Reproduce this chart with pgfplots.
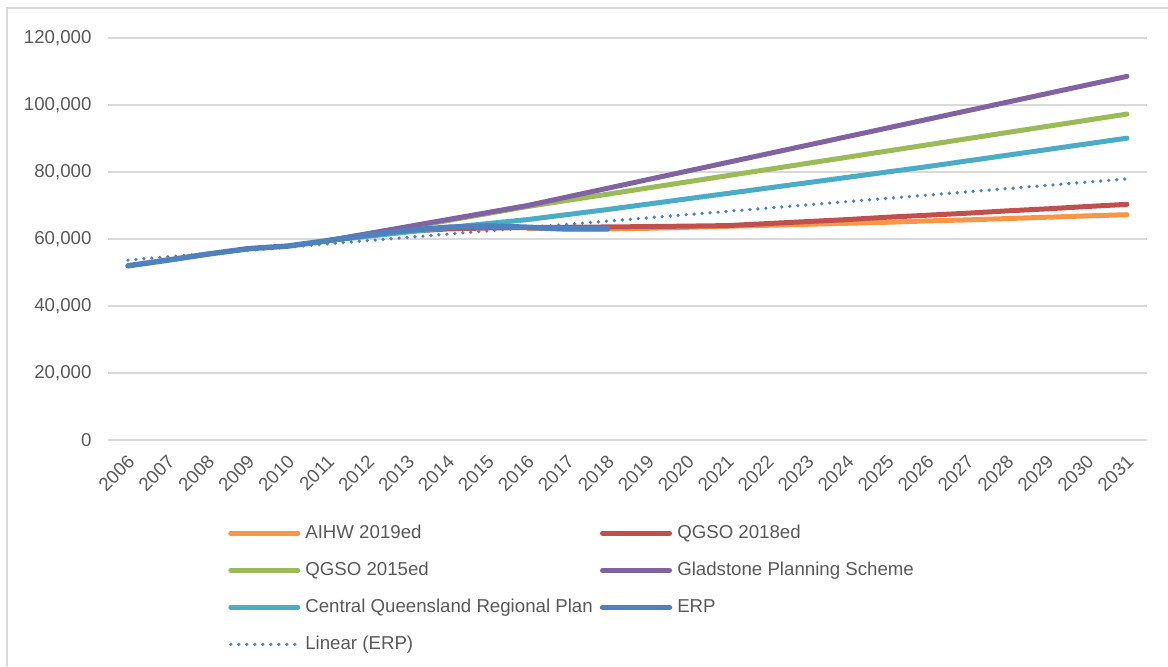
\documentclass[border=0pt]{standalone}
\usepackage{pgfplots}
\pgfplotsset{compat=1.18}
\usepackage{fontspec}
\setmainfont{Liberation Sans}
\definecolor{cOrange}{HTML}{F79646}
\definecolor{cRed}{HTML}{C0504D}
\definecolor{cGreen}{HTML}{9BBB59}
\definecolor{cPurple}{HTML}{8064A2}
\definecolor{cTeal}{HTML}{4BACC6}
\definecolor{cBlue}{HTML}{4F81BD}
\definecolor{gridgray}{HTML}{D9D9D9}
\definecolor{textgray}{HTML}{595959}
\begin{document}
\begin{tikzpicture}
\fontsize{11.2}{13.4}\selectfont
\useasboundingbox (0,0) rectangle (700.8pt,399.6pt);
\draw[gridgray, line width=0.9pt] (4.2pt,0pt) -- (4.2pt,394.8pt) -- (700.8pt,394.8pt);
\begin{axis}[
  at={(64.8pt,135.6pt)}, anchor=south west,
  scale only axis, width=623.4pt, height=241.2pt,
  xmin=-0.5, xmax=25.5, ymin=0, ymax=120000,
  axis line style={draw=none},
  major tick length=0pt,
  ytick={0,20000,...,120000},
  ymajorgrids, grid style={gridgray, line width=0.9pt},
  xtick={0,...,25},
  xticklabels={2006,2007,2008,2009,2010,2011,2012,2013,2014,2015,2016,2017,2018,2019,2020,2021,2022,2023,2024,2025,2026,2027,2028,2029,2030,2031},
  scaled y ticks=false,
  yticklabel={\pgfmathprintnumber[fixed, precision=0, 1000 sep={,}, assume math mode=true]{\tick}},
  tick label style={font=\fontsize{11.2}{13.4}\selectfont, text=textgray},
  yticklabel style={xshift=-6pt},
  xticklabel style={rotate=45, anchor=north east, inner sep=1pt, yshift=-4pt, xshift=-5.3pt},
  every axis plot/.append style={line width=3pt, line cap=round, line join=round},
  legend image code/.code={\draw[#1] (1.5pt,0pt) -- (41.7pt,0pt);},
  legend columns=2,
  legend cell align=left,
  legend style={at={(0.1155,-0.209)}, anchor=north west, draw=none, fill=none,
    font=\fontsize{11.2}{13.4}\selectfont, text=textgray,
    inner sep=0pt, row sep=11.5pt, column sep=3pt,
    nodes={inner sep=0pt, text height=8.2pt, text depth=2.5pt},
    /tikz/every even column/.append style={column sep=4.2pt}},
]
\addplot[cOrange] table {
x y
10 63200
11 63000
12 63000
13 63200
14 63500
15 63800
16 64100
17 64400
18 64700
19 65000
20 65400
21 65700
22 66100
23 66500
24 66900
25 67250
};
\addlegendentry{AIHW 2019ed}
\addplot[cRed] table {
x y
5 59500
6 61100
7 62300
8 63000
9 63300
10 63400
11 63500
12 63600
13 63700
14 63850
15 64000
16 64600
17 65200
18 65800
19 66500
20 67100
21 67700
22 68400
23 69000
24 69700
25 70350
};
\addlegendentry{QGSO 2018ed}
\addplot[cGreen] table {
x y
5 59500
6 61500
7 63500
8 65500
9 67600
10 69700
11 71540
12 73380
13 75220
14 77060
15 78900
16 80740
17 82580
18 84420
19 86260
20 88100
21 89940
22 91780
23 93620
24 95460
25 97300
};
\addlegendentry{QGSO 2015ed}
\addplot[cPurple] table {
x y
5 59500
6 61600
7 63700
8 65800
9 67900
10 70000
11 72570
12 75140
13 77710
14 80280
15 82850
16 85420
17 87990
18 90560
19 93130
20 95700
21 98270
22 100840
23 103410
24 105980
25 108550
};
\addlegendentry{Gladstone Planning Scheme}
\addplot[cTeal] table {
x y
5 59500
6 60800
7 62100
8 63400
9 64600
10 65800
11 67300
12 68800
13 70400
14 72000
15 73600
16 75200
17 76800
18 78400
19 80000
20 81600
21 83300
22 85000
23 86700
24 88400
25 90100
};
\addlegendentry{Central Queensland Regional Plan}
\addplot[cBlue, line width=3.3pt] table {
x y
0 52000
1 53700
2 55500
3 57100
4 57900
5 59500
6 61200
7 62600
8 63500
9 63900
10 63500
11 63000
12 63000
};
\addlegendentry{ERP}
\addplot[cBlue, line width=2.2pt, dash pattern=on 0pt off 4.8pt] table {
x y
0 53700
1 54670
2 55640
3 56610
4 57580
5 58550
6 59520
7 60490
8 61460
9 62430
10 63400
11 64370
12 65340
13 66310
14 67280
15 68250
16 69220
17 70190
18 71160
19 72130
20 73100
21 74070
22 75040
23 76010
24 76980
25 77950
};
\addlegendentry{Linear (ERP)}
\end{axis}
\end{tikzpicture}
\end{document}
